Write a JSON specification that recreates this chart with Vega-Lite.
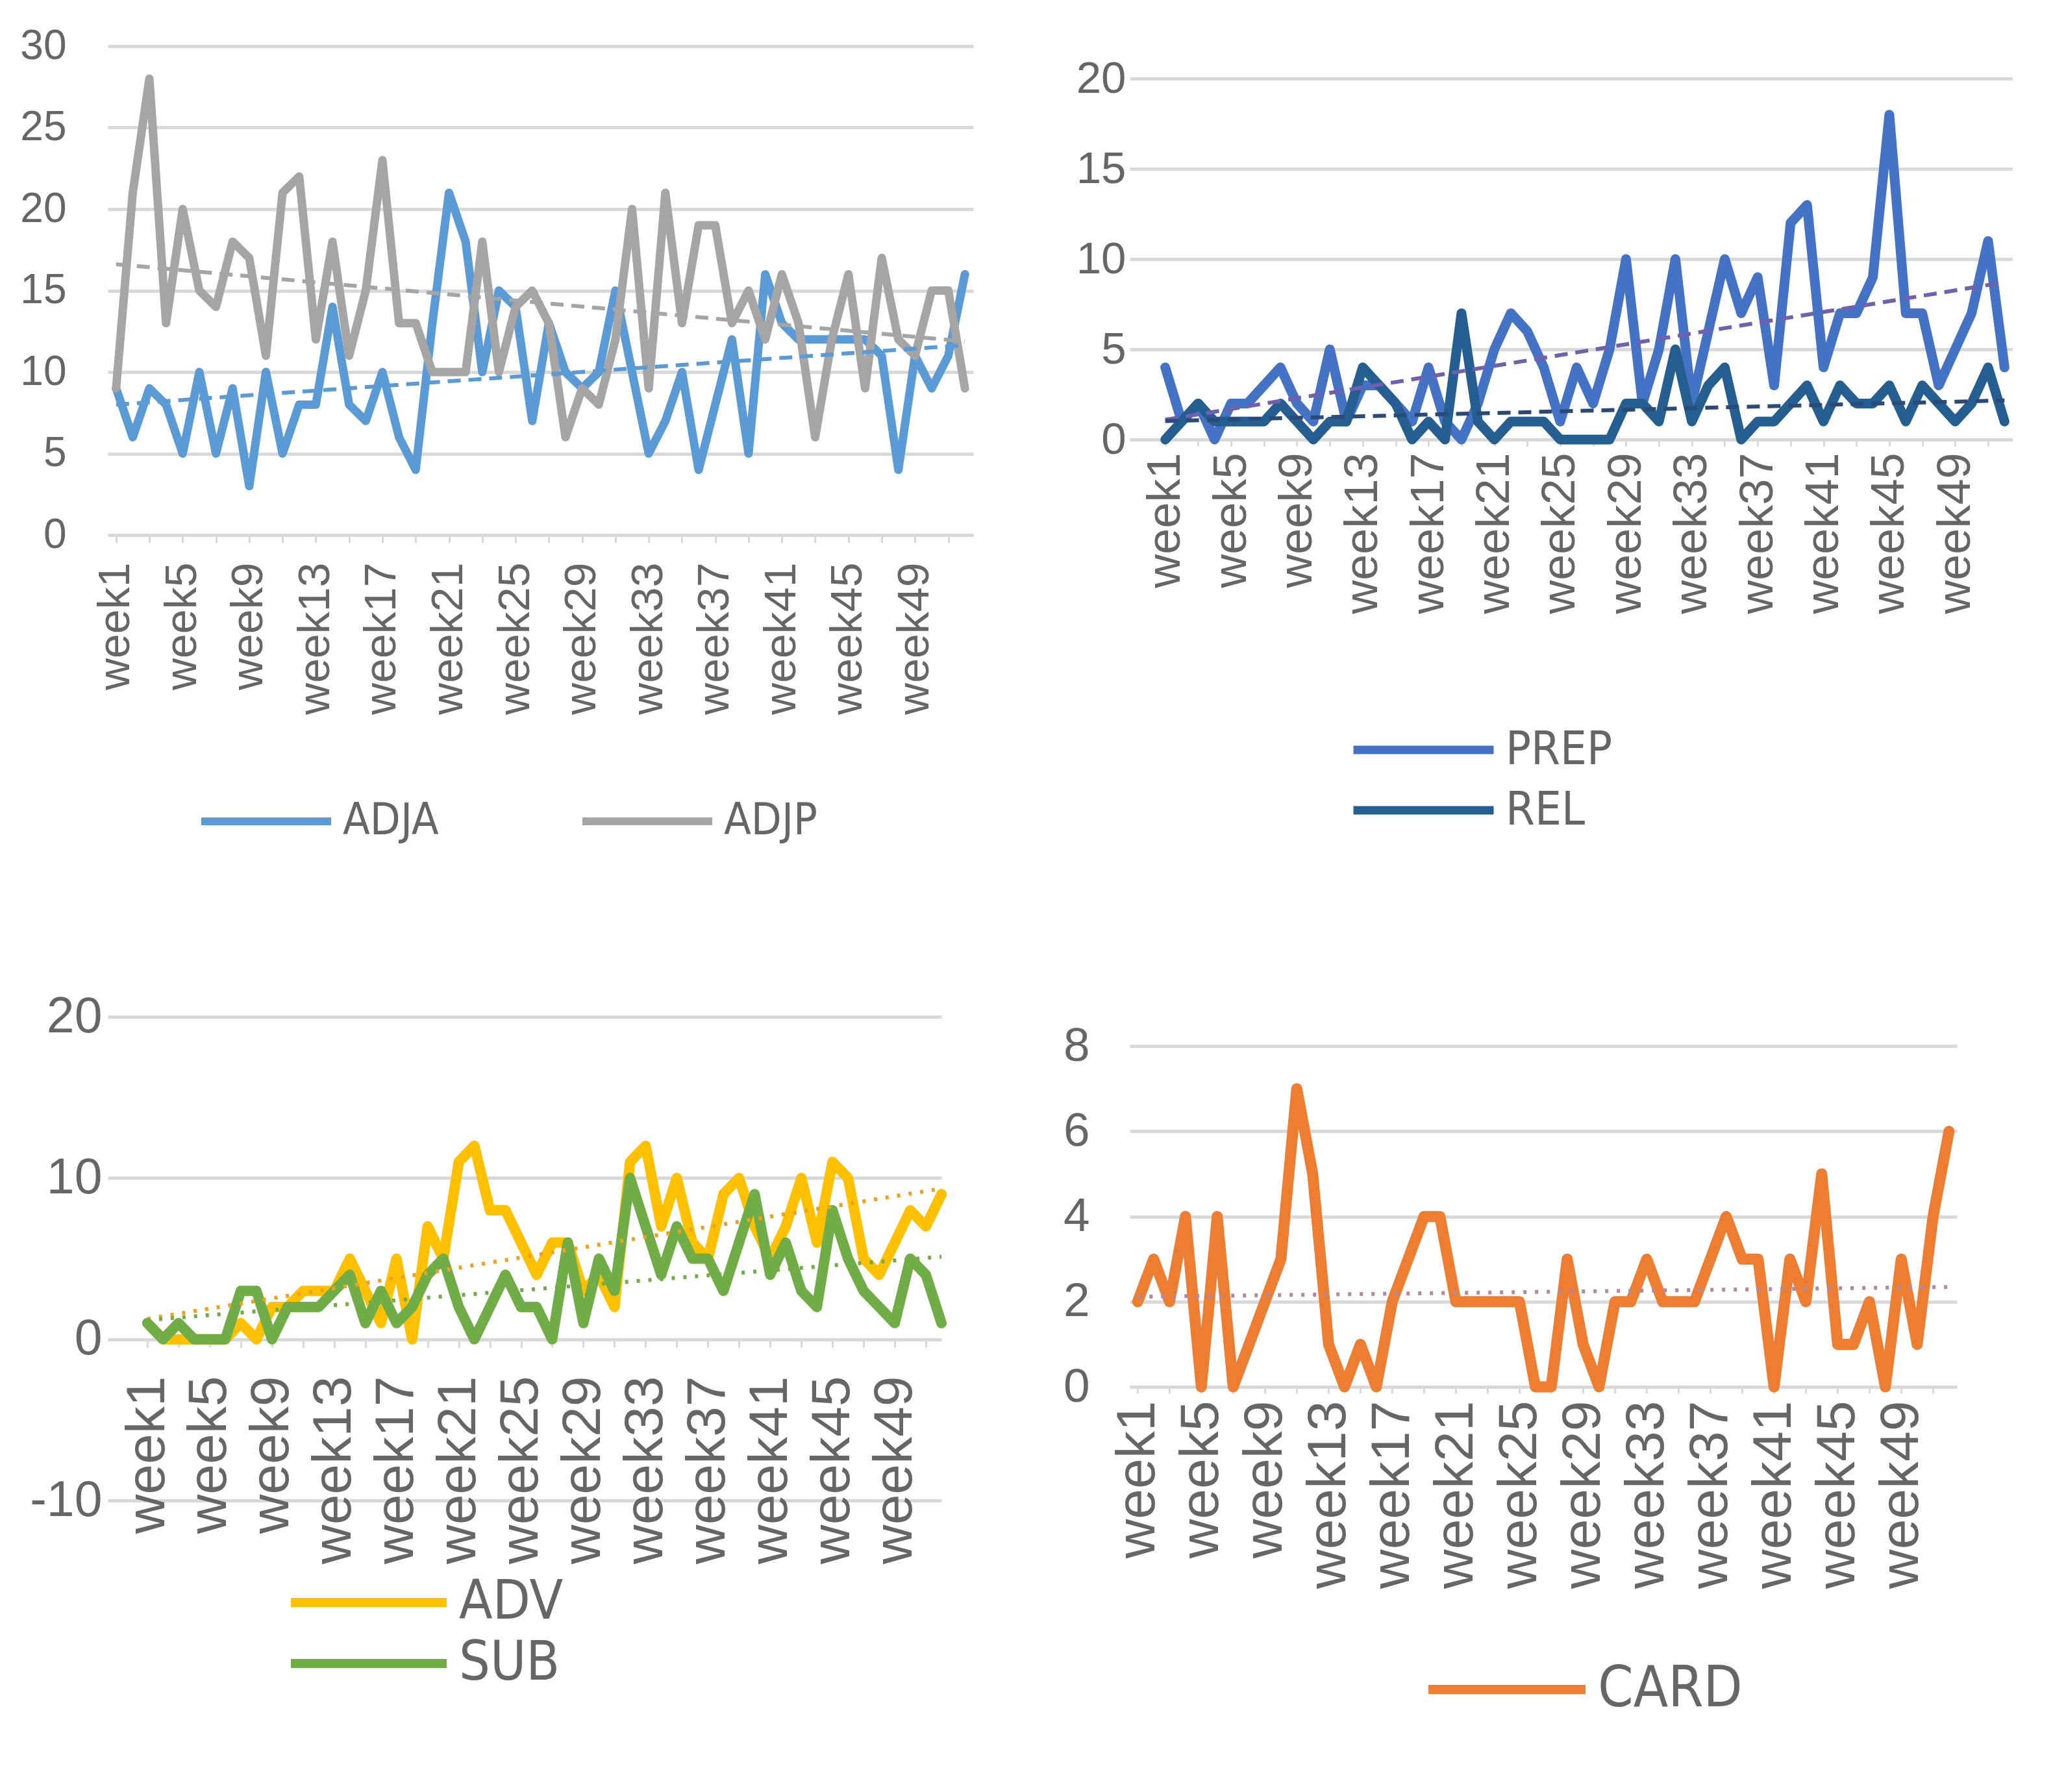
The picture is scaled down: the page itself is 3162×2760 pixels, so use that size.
{
"$schema":"https://vega.github.io/schema/vega-lite/v6.json",
"background":"white",
"padding":{"left":30,"top":39,"right":0,"bottom":0},
"config":{
 "view":{"stroke":null},
 "font":"Liberation Sans",
 "axis":{"title":null,"labelColor":"#666666","labelFont":"Liberation Sans","labelLimit":2000,"gridColor":"#D9D9D9","gridWidth":5,"domainColor":"#D9D9D9","tickColor":"#D9D9D9"},
 "legend":{"title":null,"orient":"none","symbolType":"stroke","labelColor":"#666666","labelFont":"Liberation Sans Narrow, DejaVu Sans Condensed, Liberation Sans","labelLimit":2000,"padding":0,"labelOffset":12}
},
"columns":2,
"bounds":"flush",
"align":"each",
"spacing":{"row":742,"column":241},
"resolve":{"scale":{"color":"independent","x":"independent","y":"independent"},"legend":{"color":"independent"}},
"data":{"values":[
{"series":"ADJA","week":1,"value":9},{"series":"ADJA","week":2,"value":6},{"series":"ADJA","week":3,"value":9},{"series":"ADJA","week":4,"value":8},{"series":"ADJA","week":5,"value":5},{"series":"ADJA","week":6,"value":10},{"series":"ADJA","week":7,"value":5},{"series":"ADJA","week":8,"value":9},{"series":"ADJA","week":9,"value":3},{"series":"ADJA","week":10,"value":10},{"series":"ADJA","week":11,"value":5},{"series":"ADJA","week":12,"value":8},{"series":"ADJA","week":13,"value":8},{"series":"ADJA","week":14,"value":14},{"series":"ADJA","week":15,"value":8},{"series":"ADJA","week":16,"value":7},{"series":"ADJA","week":17,"value":10},{"series":"ADJA","week":18,"value":6},{"series":"ADJA","week":19,"value":4},{"series":"ADJA","week":20,"value":13},{"series":"ADJA","week":21,"value":21},{"series":"ADJA","week":22,"value":18},{"series":"ADJA","week":23,"value":10},{"series":"ADJA","week":24,"value":15},{"series":"ADJA","week":25,"value":14},{"series":"ADJA","week":26,"value":7},{"series":"ADJA","week":27,"value":13},{"series":"ADJA","week":28,"value":10},{"series":"ADJA","week":29,"value":9},{"series":"ADJA","week":30,"value":10},{"series":"ADJA","week":31,"value":15},{"series":"ADJA","week":32,"value":10},{"series":"ADJA","week":33,"value":5},{"series":"ADJA","week":34,"value":7},{"series":"ADJA","week":35,"value":10},{"series":"ADJA","week":36,"value":4},{"series":"ADJA","week":37,"value":8},{"series":"ADJA","week":38,"value":12},{"series":"ADJA","week":39,"value":5},{"series":"ADJA","week":40,"value":16},{"series":"ADJA","week":41,"value":13},{"series":"ADJA","week":42,"value":12},{"series":"ADJA","week":43,"value":12},{"series":"ADJA","week":44,"value":12},{"series":"ADJA","week":45,"value":12},{"series":"ADJA","week":46,"value":12},{"series":"ADJA","week":47,"value":11},{"series":"ADJA","week":48,"value":4},{"series":"ADJA","week":49,"value":11},{"series":"ADJA","week":50,"value":9},{"series":"ADJA","week":51,"value":11},{"series":"ADJA","week":52,"value":16},
{"series":"ADJP","week":1,"value":9},{"series":"ADJP","week":2,"value":21},{"series":"ADJP","week":3,"value":28},{"series":"ADJP","week":4,"value":13},{"series":"ADJP","week":5,"value":20},{"series":"ADJP","week":6,"value":15},{"series":"ADJP","week":7,"value":14},{"series":"ADJP","week":8,"value":18},{"series":"ADJP","week":9,"value":17},{"series":"ADJP","week":10,"value":11},{"series":"ADJP","week":11,"value":21},{"series":"ADJP","week":12,"value":22},{"series":"ADJP","week":13,"value":12},{"series":"ADJP","week":14,"value":18},{"series":"ADJP","week":15,"value":11},{"series":"ADJP","week":16,"value":15},{"series":"ADJP","week":17,"value":23},{"series":"ADJP","week":18,"value":13},{"series":"ADJP","week":19,"value":13},{"series":"ADJP","week":20,"value":10},{"series":"ADJP","week":21,"value":10},{"series":"ADJP","week":22,"value":10},{"series":"ADJP","week":23,"value":18},{"series":"ADJP","week":24,"value":10},{"series":"ADJP","week":25,"value":14},{"series":"ADJP","week":26,"value":15},{"series":"ADJP","week":27,"value":13},{"series":"ADJP","week":28,"value":6},{"series":"ADJP","week":29,"value":9},{"series":"ADJP","week":30,"value":8},{"series":"ADJP","week":31,"value":12},{"series":"ADJP","week":32,"value":20},{"series":"ADJP","week":33,"value":9},{"series":"ADJP","week":34,"value":21},{"series":"ADJP","week":35,"value":13},{"series":"ADJP","week":36,"value":19},{"series":"ADJP","week":37,"value":19},{"series":"ADJP","week":38,"value":13},{"series":"ADJP","week":39,"value":15},{"series":"ADJP","week":40,"value":12},{"series":"ADJP","week":41,"value":16},{"series":"ADJP","week":42,"value":13},{"series":"ADJP","week":43,"value":6},{"series":"ADJP","week":44,"value":12},{"series":"ADJP","week":45,"value":16},{"series":"ADJP","week":46,"value":9},{"series":"ADJP","week":47,"value":17},{"series":"ADJP","week":48,"value":12},{"series":"ADJP","week":49,"value":11},{"series":"ADJP","week":50,"value":15},{"series":"ADJP","week":51,"value":15},{"series":"ADJP","week":52,"value":9},
{"series":"PREP","week":1,"value":4},{"series":"PREP","week":2,"value":1},{"series":"PREP","week":3,"value":2},{"series":"PREP","week":4,"value":0},{"series":"PREP","week":5,"value":2},{"series":"PREP","week":6,"value":2},{"series":"PREP","week":7,"value":3},{"series":"PREP","week":8,"value":4},{"series":"PREP","week":9,"value":2},{"series":"PREP","week":10,"value":1},{"series":"PREP","week":11,"value":5},{"series":"PREP","week":12,"value":1},{"series":"PREP","week":13,"value":3},{"series":"PREP","week":14,"value":3},{"series":"PREP","week":15,"value":2},{"series":"PREP","week":16,"value":1},{"series":"PREP","week":17,"value":4},{"series":"PREP","week":18,"value":1},{"series":"PREP","week":19,"value":0},{"series":"PREP","week":20,"value":2},{"series":"PREP","week":21,"value":5},{"series":"PREP","week":22,"value":7},{"series":"PREP","week":23,"value":6},{"series":"PREP","week":24,"value":4},{"series":"PREP","week":25,"value":1},{"series":"PREP","week":26,"value":4},{"series":"PREP","week":27,"value":2},{"series":"PREP","week":28,"value":5},{"series":"PREP","week":29,"value":10},{"series":"PREP","week":30,"value":2},{"series":"PREP","week":31,"value":5},{"series":"PREP","week":32,"value":10},{"series":"PREP","week":33,"value":2},{"series":"PREP","week":34,"value":6},{"series":"PREP","week":35,"value":10},{"series":"PREP","week":36,"value":7},{"series":"PREP","week":37,"value":9},{"series":"PREP","week":38,"value":3},{"series":"PREP","week":39,"value":12},{"series":"PREP","week":40,"value":13},{"series":"PREP","week":41,"value":4},{"series":"PREP","week":42,"value":7},{"series":"PREP","week":43,"value":7},{"series":"PREP","week":44,"value":9},{"series":"PREP","week":45,"value":18},{"series":"PREP","week":46,"value":7},{"series":"PREP","week":47,"value":7},{"series":"PREP","week":48,"value":3},{"series":"PREP","week":49,"value":5},{"series":"PREP","week":50,"value":7},{"series":"PREP","week":51,"value":11},{"series":"PREP","week":52,"value":4},
{"series":"REL","week":1,"value":0},{"series":"REL","week":2,"value":1},{"series":"REL","week":3,"value":2},{"series":"REL","week":4,"value":1},{"series":"REL","week":5,"value":1},{"series":"REL","week":6,"value":1},{"series":"REL","week":7,"value":1},{"series":"REL","week":8,"value":2},{"series":"REL","week":9,"value":1},{"series":"REL","week":10,"value":0},{"series":"REL","week":11,"value":1},{"series":"REL","week":12,"value":1},{"series":"REL","week":13,"value":4},{"series":"REL","week":14,"value":3},{"series":"REL","week":15,"value":2},{"series":"REL","week":16,"value":0},{"series":"REL","week":17,"value":1},{"series":"REL","week":18,"value":0},{"series":"REL","week":19,"value":7},{"series":"REL","week":20,"value":1},{"series":"REL","week":21,"value":0},{"series":"REL","week":22,"value":1},{"series":"REL","week":23,"value":1},{"series":"REL","week":24,"value":1},{"series":"REL","week":25,"value":0},{"series":"REL","week":26,"value":0},{"series":"REL","week":27,"value":0},{"series":"REL","week":28,"value":0},{"series":"REL","week":29,"value":2},{"series":"REL","week":30,"value":2},{"series":"REL","week":31,"value":1},{"series":"REL","week":32,"value":5},{"series":"REL","week":33,"value":1},{"series":"REL","week":34,"value":3},{"series":"REL","week":35,"value":4},{"series":"REL","week":36,"value":0},{"series":"REL","week":37,"value":1},{"series":"REL","week":38,"value":1},{"series":"REL","week":39,"value":2},{"series":"REL","week":40,"value":3},{"series":"REL","week":41,"value":1},{"series":"REL","week":42,"value":3},{"series":"REL","week":43,"value":2},{"series":"REL","week":44,"value":2},{"series":"REL","week":45,"value":3},{"series":"REL","week":46,"value":1},{"series":"REL","week":47,"value":3},{"series":"REL","week":48,"value":2},{"series":"REL","week":49,"value":1},{"series":"REL","week":50,"value":2},{"series":"REL","week":51,"value":4},{"series":"REL","week":52,"value":1},
{"series":"ADV","week":1,"value":1},{"series":"ADV","week":2,"value":0},{"series":"ADV","week":3,"value":0},{"series":"ADV","week":4,"value":0},{"series":"ADV","week":5,"value":0},{"series":"ADV","week":6,"value":0},{"series":"ADV","week":7,"value":1},{"series":"ADV","week":8,"value":0},{"series":"ADV","week":9,"value":2},{"series":"ADV","week":10,"value":2},{"series":"ADV","week":11,"value":3},{"series":"ADV","week":12,"value":3},{"series":"ADV","week":13,"value":3},{"series":"ADV","week":14,"value":5},{"series":"ADV","week":15,"value":3},{"series":"ADV","week":16,"value":1},{"series":"ADV","week":17,"value":5},{"series":"ADV","week":18,"value":0},{"series":"ADV","week":19,"value":7},{"series":"ADV","week":20,"value":5},{"series":"ADV","week":21,"value":11},{"series":"ADV","week":22,"value":12},{"series":"ADV","week":23,"value":8},{"series":"ADV","week":24,"value":8},{"series":"ADV","week":25,"value":6},{"series":"ADV","week":26,"value":4},{"series":"ADV","week":27,"value":6},{"series":"ADV","week":28,"value":6},{"series":"ADV","week":29,"value":3},{"series":"ADV","week":30,"value":4},{"series":"ADV","week":31,"value":2},{"series":"ADV","week":32,"value":11},{"series":"ADV","week":33,"value":12},{"series":"ADV","week":34,"value":7},{"series":"ADV","week":35,"value":10},{"series":"ADV","week":36,"value":6},{"series":"ADV","week":37,"value":5},{"series":"ADV","week":38,"value":9},{"series":"ADV","week":39,"value":10},{"series":"ADV","week":40,"value":7},{"series":"ADV","week":41,"value":5},{"series":"ADV","week":42,"value":7},{"series":"ADV","week":43,"value":10},{"series":"ADV","week":44,"value":6},{"series":"ADV","week":45,"value":11},{"series":"ADV","week":46,"value":10},{"series":"ADV","week":47,"value":5},{"series":"ADV","week":48,"value":4},{"series":"ADV","week":49,"value":6},{"series":"ADV","week":50,"value":8},{"series":"ADV","week":51,"value":7},{"series":"ADV","week":52,"value":9},
{"series":"SUB","week":1,"value":1},{"series":"SUB","week":2,"value":0},{"series":"SUB","week":3,"value":1},{"series":"SUB","week":4,"value":0},{"series":"SUB","week":5,"value":0},{"series":"SUB","week":6,"value":0},{"series":"SUB","week":7,"value":3},{"series":"SUB","week":8,"value":3},{"series":"SUB","week":9,"value":0},{"series":"SUB","week":10,"value":2},{"series":"SUB","week":11,"value":2},{"series":"SUB","week":12,"value":2},{"series":"SUB","week":13,"value":3},{"series":"SUB","week":14,"value":4},{"series":"SUB","week":15,"value":1},{"series":"SUB","week":16,"value":3},{"series":"SUB","week":17,"value":1},{"series":"SUB","week":18,"value":2},{"series":"SUB","week":19,"value":4},{"series":"SUB","week":20,"value":5},{"series":"SUB","week":21,"value":2},{"series":"SUB","week":22,"value":0},{"series":"SUB","week":23,"value":2},{"series":"SUB","week":24,"value":4},{"series":"SUB","week":25,"value":2},{"series":"SUB","week":26,"value":2},{"series":"SUB","week":27,"value":0},{"series":"SUB","week":28,"value":6},{"series":"SUB","week":29,"value":1},{"series":"SUB","week":30,"value":5},{"series":"SUB","week":31,"value":3},{"series":"SUB","week":32,"value":10},{"series":"SUB","week":33,"value":7},{"series":"SUB","week":34,"value":4},{"series":"SUB","week":35,"value":7},{"series":"SUB","week":36,"value":5},{"series":"SUB","week":37,"value":5},{"series":"SUB","week":38,"value":3},{"series":"SUB","week":39,"value":6},{"series":"SUB","week":40,"value":9},{"series":"SUB","week":41,"value":4},{"series":"SUB","week":42,"value":6},{"series":"SUB","week":43,"value":3},{"series":"SUB","week":44,"value":2},{"series":"SUB","week":45,"value":8},{"series":"SUB","week":46,"value":5},{"series":"SUB","week":47,"value":3},{"series":"SUB","week":48,"value":2},{"series":"SUB","week":49,"value":1},{"series":"SUB","week":50,"value":5},{"series":"SUB","week":51,"value":4},{"series":"SUB","week":52,"value":1},
{"series":"CARD","week":1,"value":2},{"series":"CARD","week":2,"value":3},{"series":"CARD","week":3,"value":2},{"series":"CARD","week":4,"value":4},{"series":"CARD","week":5,"value":0},{"series":"CARD","week":6,"value":4},{"series":"CARD","week":7,"value":0},{"series":"CARD","week":8,"value":1},{"series":"CARD","week":9,"value":2},{"series":"CARD","week":10,"value":3},{"series":"CARD","week":11,"value":7},{"series":"CARD","week":12,"value":5},{"series":"CARD","week":13,"value":1},{"series":"CARD","week":14,"value":0},{"series":"CARD","week":15,"value":1},{"series":"CARD","week":16,"value":0},{"series":"CARD","week":17,"value":2},{"series":"CARD","week":18,"value":3},{"series":"CARD","week":19,"value":4},{"series":"CARD","week":20,"value":4},{"series":"CARD","week":21,"value":2},{"series":"CARD","week":22,"value":2},{"series":"CARD","week":23,"value":2},{"series":"CARD","week":24,"value":2},{"series":"CARD","week":25,"value":2},{"series":"CARD","week":26,"value":0},{"series":"CARD","week":27,"value":0},{"series":"CARD","week":28,"value":3},{"series":"CARD","week":29,"value":1},{"series":"CARD","week":30,"value":0},{"series":"CARD","week":31,"value":2},{"series":"CARD","week":32,"value":2},{"series":"CARD","week":33,"value":3},{"series":"CARD","week":34,"value":2},{"series":"CARD","week":35,"value":2},{"series":"CARD","week":36,"value":2},{"series":"CARD","week":37,"value":3},{"series":"CARD","week":38,"value":4},{"series":"CARD","week":39,"value":3},{"series":"CARD","week":40,"value":3},{"series":"CARD","week":41,"value":0},{"series":"CARD","week":42,"value":3},{"series":"CARD","week":43,"value":2},{"series":"CARD","week":44,"value":5},{"series":"CARD","week":45,"value":1},{"series":"CARD","week":46,"value":1},{"series":"CARD","week":47,"value":2},{"series":"CARD","week":48,"value":0},{"series":"CARD","week":49,"value":3},{"series":"CARD","week":50,"value":1},{"series":"CARD","week":51,"value":4},{"series":"CARD","week":52,"value":6}
]},
"concat":[
{
 "width":1333,"height":753,
 "transform":[{"filter":{"field":"series","oneOf":["ADJA","ADJP"]}}],
 "layer":[
  {"mark":{"type":"line","strokeWidth":13,"strokeJoin":"round","strokeCap":"round"},
   "encoding":{
    "x":{"field":"week","type":"quantitative","scale":{"domain":[0.5,52.5],"nice":false,"zero":false},
     "axis":{"values":[1,2,3,4,5,6,7,8,9,10,11,12,13,14,15,16,17,18,19,20,21,22,23,24,25,26,27,28,29,30,31,32,33,34,35,36,37,38,39,40,41,42,43,44,45,46,47,48,49,50,51,52],"labelExpr":"(datum.value - 1) % 4 == 0 ? 'week' + datum.value : ''","labelAngle":-90,"labelFontSize":68,"labelPadding":30,"tickSize":12,"tickWidth":3,"domainWidth":5,"grid":false,"labelOverlap":false,"labelFlush":false}},
    "y":{"field":"value","type":"quantitative","scale":{"domain":[0,30],"nice":false},
     "axis":{"values":[0,5,10,15,20,25,30],"format":"d","labelFontSize":64,"labelPadding":64,"ticks":false,"domain":false,"grid":true}},
    "color":{"field":"series","type":"nominal","scale":{"domain":["ADJA","ADJP"],"range":["#5B9BD5","#A5A5A5"]},
     "legend":{"legendX":138,"legendY":1149,"clipHeight":90,"direction":"horizontal","symbolSize":40000,"symbolStrokeWidth":12,"labelFontSize":68,"columnPadding":215}}
   }},
  {"transform":[{"filter":{"field":"series","equal":"ADJA"}},{"regression":"value","on":"week"}],
   "mark":{"type":"line","strokeDash":[20,12],"strokeWidth":6,"color":"#5B9BD5"},
   "encoding":{"x":{"field":"week","type":"quantitative"},"y":{"field":"value","type":"quantitative"}}},
  {"transform":[{"filter":{"field":"series","equal":"ADJP"}},{"regression":"value","on":"week"}],
   "mark":{"type":"line","strokeDash":[20,12],"strokeWidth":6,"color":"#A5A5A5"},
   "encoding":{"x":{"field":"week","type":"quantitative"},"y":{"field":"value","type":"quantitative"}}}
 ]
},
{
 "width":1360,"height":606,
 "transform":[{"filter":{"field":"series","oneOf":["PREP","REL"]}}],
 "layer":[
  {"mark":{"type":"line","strokeWidth":15,"strokeJoin":"round","strokeCap":"round"},
   "encoding":{
    "x":{"field":"week","type":"quantitative","scale":{"domain":[-1.157,52.5],"nice":false,"zero":false},
     "axis":{"values":[1,2,3,4,5,6,7,8,9,10,11,12,13,14,15,16,17,18,19,20,21,22,23,24,25,26,27,28,29,30,31,32,33,34,35,36,37,38,39,40,41,42,43,44,45,46,47,48,49,50,51,52],"labelExpr":"(datum.value - 1) % 4 == 0 ? 'week' + datum.value : ''","labelAngle":-90,"labelFontSize":72,"labelPadding":10,"tickSize":10,"tickWidth":3,"domainWidth":5,"grid":false,"labelOverlap":false,"labelFlush":false}},
    "y":{"field":"value","type":"quantitative","scale":{"domain":[0,21.8],"nice":false},
     "axis":{"values":[0,5,10,15,20],"format":"d","labelFontSize":69,"labelPadding":6,"ticks":false,"domain":false,"grid":true}},
    "color":{"field":"series","type":"nominal","scale":{"domain":["PREP","REL"],"range":["#4472C4","#255E91"]},
     "legend":{"legendX":338,"legendY":1039,"clipHeight":90,"direction":"vertical","symbolSize":46656,"symbolStrokeWidth":13,"labelFontSize":72,"rowPadding":3}}
   }},
  {"transform":[{"filter":{"field":"series","equal":"PREP"}},{"regression":"value","on":"week"}],
   "mark":{"type":"line","strokeDash":[20,12],"strokeWidth":6,"color":"#7060B0"},
   "encoding":{"x":{"field":"week","type":"quantitative"},"y":{"field":"value","type":"quantitative"}}},
  {"transform":[{"filter":{"field":"series","equal":"REL"}},{"regression":"value","on":"week"}],
   "mark":{"type":"line","strokeDash":[20,12],"strokeWidth":6,"color":"#2B4A78"},
   "encoding":{"x":{"field":"week","type":"quantitative"},"y":{"field":"value","type":"quantitative"}}}
 ]
},
{
 "width":1284,"height":745,
 "transform":[{"filter":{"field":"series","oneOf":["ADV","SUB"]}}],
 "layer":[
  {"mark":{"type":"line","strokeWidth":16,"strokeJoin":"round","strokeCap":"round"},
   "encoding":{
    "x":{"field":"week","type":"quantitative","scale":{"domain":[-1.544,52],"nice":false,"zero":false},
     "axis":{"values":[1,2,3,4,5,6,7,8,9,10,11,12,13,14,15,16,17,18,19,20,21,22,23,24,25,26,27,28,29,30,31,32,33,34,35,36,37,38,39,40,41,42,43,44,45,46,47,48,49,50,51,52],"labelExpr":"(datum.value - 1) % 4 == 0 ? 'week' + datum.value : ''","labelAngle":-90,"labelFontSize":84,"labelPadding":44,"tickSize":12,"tickWidth":3,"domainWidth":5,"offset":-248,"grid":false,"labelOverlap":false,"labelFlush":false}},
    "y":{"field":"value","type":"quantitative","scale":{"domain":[-10,20],"nice":false,"zero":false},
     "axis":{"values":[-10,0,10,20],"labelExpr":"datum.value < 0 ? '-' + abs(datum.value) : '' + datum.value","labelFontSize":77,"labelPadding":9,"ticks":false,"domain":false,"grid":true}},
    "color":{"field":"series","type":"nominal","scale":{"domain":["ADV","SUB"],"range":["#FFC000","#70AD47"]},
     "legend":{"legendX":275,"legendY":855,"clipHeight":94,"direction":"vertical","symbolSize":57600,"symbolStrokeWidth":14,"labelFontSize":84,"rowPadding":0}}
   }},
  {"transform":[{"filter":{"field":"series","equal":"ADV"}},{"regression":"value","on":"week"}],
   "mark":{"type":"line","strokeDash":[5,13],"strokeWidth":6,"color":"#F0A020"},
   "encoding":{"x":{"field":"week","type":"quantitative"},"y":{"field":"value","type":"quantitative"}}},
  {"transform":[{"filter":{"field":"series","equal":"SUB"}},{"regression":"value","on":"week"}],
   "mark":{"type":"line","strokeDash":[5,13],"strokeWidth":6,"color":"#70AD47"},
   "encoding":{"x":{"field":"week","type":"quantitative"},"y":{"field":"value","type":"quantitative"}}}
 ]
},
{
 "width":1274,"height":570,
 "transform":[{"filter":{"field":"series","equal":"CARD"}}],
 "layer":[
  {"mark":{"type":"line","strokeWidth":17,"strokeJoin":"round","strokeCap":"round"},
   "encoding":{
    "x":{"field":"week","type":"quantitative","scale":{"domain":[0.5,52.5],"nice":false,"zero":false},
     "axis":{"values":[1,2,3,4,5,6,7,8,9,10,11,12,13,14,15,16,17,18,19,20,21,22,23,24,25,26,27,28,29,30,31,32,33,34,35,36,37,38,39,40,41,42,43,44,45,46,47,48,49,50,51,52],"labelExpr":"(datum.value - 1) % 4 == 0 ? 'week' + datum.value : ''","labelAngle":-90,"labelFontSize":84,"labelPadding":11,"tickSize":10,"tickWidth":3,"domainWidth":5,"grid":false,"labelOverlap":false,"labelFlush":false}},
    "y":{"field":"value","type":"quantitative","scale":{"domain":[0,8.69],"nice":false},
     "axis":{"values":[0,2,4,6,8],"format":"d","labelFontSize":73,"labelPadding":62,"ticks":false,"domain":false,"grid":true}},
    "color":{"field":"series","type":"nominal","scale":{"domain":["CARD"],"range":["#ED7D31"]},
     "legend":{"legendX":453,"legendY":989,"clipHeight":94,"direction":"vertical","symbolSize":58564,"symbolStrokeWidth":14,"labelFontSize":87}}
   }},
  {"transform":[{"regression":"value","on":"week"}],
   "mark":{"type":"line","strokeDash":[5,13],"strokeWidth":6,"color":"#B08AA0"},
   "encoding":{"x":{"field":"week","type":"quantitative"},"y":{"field":"value","type":"quantitative"}}}
 ]
}
]
}
